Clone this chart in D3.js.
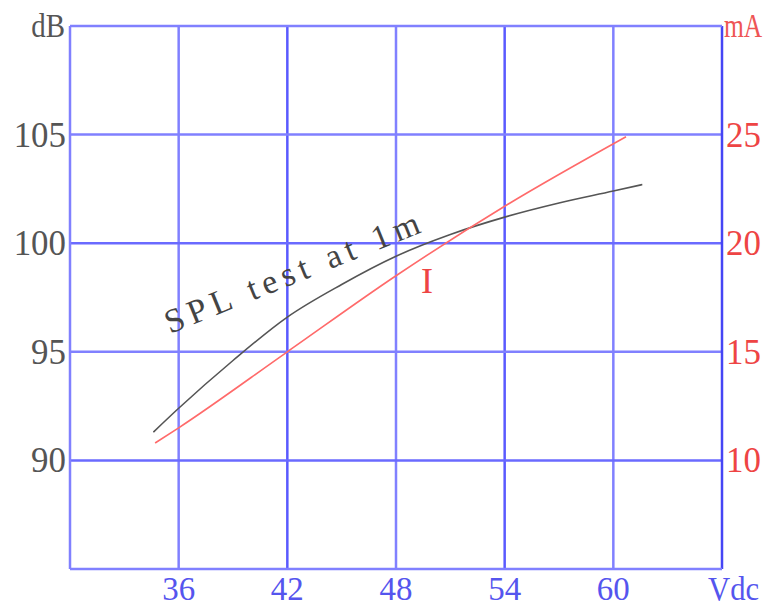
<!DOCTYPE html>
<html><head><meta charset="utf-8">
<script src="https://cdn.jsdelivr.net/npm/d3@7"></script>
<style>body{margin:0;background:#fff}svg{display:block}</style>
</head><body>
<script>
const xTicks = [36, 42, 48, 54, 60];
const leftTicks = [90, 95, 100, 105];
const rightTicks = [10, 15, 20, 25];
const splVolts = [34.6, 36, 39, 42, 45, 48, 51, 54, 57, 60, 61.6];
const splDb    = [91.3, 92.4, 94.6, 96.6, 98.1, 99.4, 100.4, 101.2, 101.85, 102.4, 102.7];
const curVolts = [34.7, 36, 42, 48, 54, 60.7];
const curMa    = [10.8, 11.5, 15.0, 18.5, 21.7, 24.9];

const W = 769, H = 609;
const m = {l: 70, t: 26, r: 47, b: 40};
const svg = d3.select("body").append("svg").attr("width", W).attr("height", H);
const x = d3.scaleLinear().domain([30, 66]).range([m.l, W - m.r]);
const yL = d3.scaleLinear().domain([85, 110]).range([H - m.b, m.t]);
const yR = d3.scaleLinear().domain([5, 30]).range([H - m.b, m.t]);

const serif = "'Liberation Serif','DejaVu Serif',serif";
const grid = "#8080ff";

// gridlines
svg.append("g").selectAll("line").data(xTicks).join("line")
  .attr("x1", d => x(d)).attr("x2", d => x(d)).attr("y1", m.t).attr("y2", H - m.b)
  .attr("stroke", (d, i) => i % 2 ? "#5a5aff" : grid).attr("stroke-width", 2.5);
svg.append("g").selectAll("line").data(leftTicks).join("line")
  .attr("x1", m.l).attr("x2", W - m.r).attr("y1", d => yL(d)).attr("y2", d => yL(d))
  .attr("stroke", (d, i) => i % 2 ? grid : "#6a6aff").attr("stroke-width", 2.5);
// border
svg.append("line").attr("x1", m.l).attr("x2", m.l).attr("y1", m.t).attr("y2", H - m.b).attr("stroke", grid).attr("stroke-width", 2.5);
svg.append("line").attr("x1", W - m.r).attr("x2", W - m.r).attr("y1", m.t).attr("y2", H - m.b).attr("stroke", "#4545f5").attr("stroke-width", 2.5);
svg.append("line").attr("x1", m.l).attr("x2", W - m.r).attr("y1", m.t).attr("y2", m.t).attr("stroke", grid).attr("stroke-width", 2.5);
svg.append("line").attr("x1", m.l).attr("x2", W - m.r).attr("y1", H - m.b).attr("y2", H - m.b).attr("stroke", grid).attr("stroke-width", 2.5);

// labels
const fs = 36;
svg.append("g").selectAll("text").data(leftTicks).join("text")
  .attr("transform", d => `translate(${m.l - 4},${yL(d) + 12}) scale(0.97,1)`)
  .attr("text-anchor", "end").attr("font-family", serif).attr("font-size", fs).attr("fill", "#555").text(d => d);
svg.append("text").attr("transform", `translate(${m.l - 5},${m.t + 11}) scale(0.85,1)`)
  .attr("text-anchor", "end").attr("font-family", serif).attr("font-size", 34).attr("fill", "#555").text("dB");
svg.append("g").selectAll("text").data(rightTicks).join("text")
  .attr("transform", d => `translate(${W - m.r + 4},${yR(d) + 12}) scale(0.97,1)`)
  .attr("font-family", serif).attr("font-size", fs).attr("fill", "#ee4444").text(d => d);
svg.append("text").attr("transform", `translate(${W - m.r + 2},${m.t + 11}) scale(0.75,1)`)
  .attr("font-family", serif).attr("font-size", 34).attr("fill", "#ee5555").text("mA");
svg.append("g").selectAll("text").data(xTicks).join("text")
  .attr("transform", d => `translate(${x(d)},${H - 9}) scale(0.97,1)`)
  .attr("text-anchor", "middle").attr("font-family", serif).attr("font-size", 34).attr("fill", "#5555ee").text(d => d);
svg.append("text").attr("transform", `translate(${W - 10},${H - 9}) scale(0.9,1)`)
  .attr("text-anchor", "end").attr("font-family", serif).attr("font-size", 34).attr("fill", "#5555ee").text("Vdc");

// curves
const lineL = d3.line().x(d => x(d[0])).y(d => yL(d[1])).curve(d3.curveMonotoneX);
const lineR = d3.line().x(d => x(d[0])).y(d => yR(d[1])).curve(d3.curveMonotoneX);
svg.append("path").datum(d3.zip(splVolts, splDb)).attr("d", lineL)
  .attr("fill", "none").attr("stroke", "#555").attr("stroke-width", 1.6);
svg.append("path").datum(d3.zip(curVolts, curMa)).attr("d", lineR)
  .attr("fill", "none").attr("stroke", "#ff6a6a").attr("stroke-width", 1.6);

// annotations
svg.append("text").attr("transform", `translate(170,334) rotate(-22)`)
  .attr("font-family", serif).attr("font-size", 34).attr("fill", "#444")
  .attr("textLength", 272).attr("lengthAdjust", "spacing").text("SPL test at 1m");
svg.append("text").attr("x", 421).attr("y", 293)
  .attr("font-family", serif).attr("font-size", 36).attr("fill", "#ee4444").text("I");
</script>
</body></html>
